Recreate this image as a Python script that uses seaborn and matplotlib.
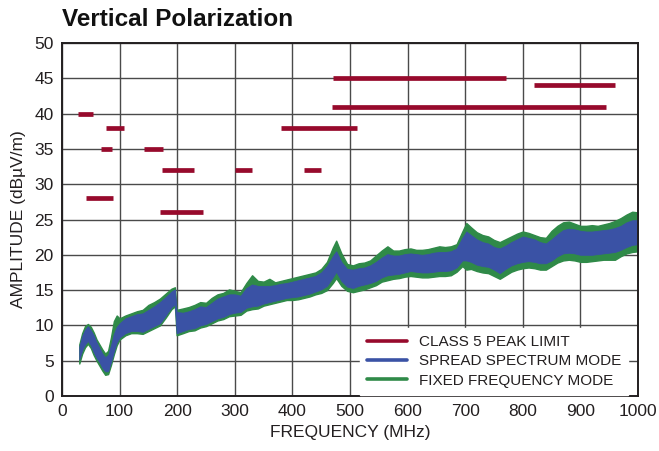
import matplotlib
matplotlib.use("Agg")
import matplotlib.pyplot as plt
from matplotlib.lines import Line2D
import seaborn as sns
import pandas as pd

# ---- Class 5 peak limit segments: (start MHz, stop MHz, level dBuV/m) ----
limit_start = [28, 76, 68, 142, 174, 300, 420, 41, 171, 380, 470, 468, 820]
limit_stop = [54, 108, 87, 175, 230, 330, 450, 88, 245, 512, 771, 944, 960]
limit_level = [40, 38, 35, 35, 32, 32, 32, 28, 26, 38, 45, 41, 44]

# ---- Measured emission envelopes (MHz, dBuV/m) ----
freq = [30, 35, 40, 45, 50, 55, 60, 65, 70, 75, 80, 85, 90, 95, 100,
        110, 120, 130, 140, 150, 160, 170, 180, 190, 196, 199, 210, 220,
        230, 240, 250, 260, 270, 280, 290, 300, 310, 320, 330, 340, 350,
        360, 370, 380, 390, 400, 410, 420, 430, 440, 450, 460, 470, 476,
        485, 495, 505, 515, 525, 535, 545, 555, 565, 575, 585, 595, 605,
        615, 625, 635, 645, 655, 665, 675, 685, 695, 702, 710, 720, 730,
        740, 750, 760, 770, 780, 790, 800, 810, 820, 830, 840, 850, 860,
        870, 880, 890, 900, 910, 920, 930, 940, 950, 960, 970, 980, 990,
        1000]

spread_low = [5.2, 6.5, 7.3, 7.8, 7.2, 6.2, 5.4, 4.8, 4.0, 3.5, 3.5, 4.8,
              6.3, 7.6, 8.3, 8.9, 9.2, 9.2, 9.1, 9.5, 9.9, 10.3, 11.4,
              12.6, 13.0, 8.9, 9.2, 9.5, 9.6, 10.0, 10.2, 10.6, 11.0, 11.2,
              11.6, 11.8, 11.9, 12.5, 12.7, 12.8, 13.1, 13.3, 13.5, 13.7,
              13.9, 14.0, 14.1, 14.3, 14.5, 14.8, 15.1, 15.6, 16.8, 17.6,
              16.3, 15.5, 15.3, 15.6, 15.8, 16.0, 16.3, 16.8, 17.1, 17.2,
              17.3, 17.5, 17.7, 17.6, 17.5, 17.5, 17.6, 17.7, 17.7, 17.8,
              18.2, 19.2, 19.2, 19.0, 18.6, 18.4, 18.3, 17.9, 17.4, 18.0,
              18.5, 18.8, 19.0, 19.1, 19.0, 18.8, 18.8, 19.2, 19.8, 20.2,
              20.3, 20.2, 20.0, 20.0, 20.0, 20.1, 20.2, 20.3, 20.4, 20.7,
              21.1, 21.4, 21.5]
spread_high = [7.0, 8.5, 9.4, 9.9, 9.3, 8.6, 7.6, 6.8, 6.0, 5.5, 5.8, 7.2,
               8.8, 9.8, 10.3, 11.0, 11.3, 11.6, 11.7, 12.2, 12.7, 13.3,
               14.0, 14.8, 15.1, 11.9, 11.8, 12.0, 12.3, 12.7, 12.6, 13.2,
               13.8, 14.1, 14.4, 14.4, 14.2, 15.3, 15.8, 15.6, 15.6, 15.6,
               15.7, 15.9, 16.0, 16.2, 16.4, 16.6, 16.8, 17.0, 17.5, 18.4,
               19.8, 20.5, 19.0, 18.0, 17.9, 18.1, 18.2, 18.5, 19.0, 19.6,
               20.1, 19.9, 19.9, 20.1, 20.2, 20.1, 20.0, 20.1, 20.3, 20.4,
               20.4, 20.5, 20.9, 22.4, 23.3, 22.8, 22.2, 21.8, 21.6, 21.1,
               20.9, 21.3, 21.8, 22.2, 22.6, 22.4, 22.2, 21.8, 21.6, 22.2,
               22.9, 23.5, 23.7, 23.6, 23.4, 23.3, 23.3, 23.4, 23.5, 23.6,
               23.8, 24.1, 24.6, 24.9, 24.9]

fixed_low = [4.6, 6.0, 6.9, 7.4, 6.8, 5.8, 5.0, 4.3, 3.6, 3.0, 3.1, 4.4,
             5.9, 7.2, 8.0, 8.6, 8.9, 8.9, 8.8, 9.2, 9.6, 10.0, 11.1, 12.3,
             12.7, 8.6, 8.9, 9.2, 9.3, 9.7, 9.9, 10.3, 10.7, 10.9, 11.3,
             11.4, 11.5, 12.1, 12.3, 12.4, 12.8, 13.0, 13.2, 13.4, 13.6,
             13.6, 13.7, 13.9, 14.1, 14.4, 14.6, 15.0, 16.0, 16.7, 15.6,
             14.9, 14.7, 14.9, 15.1, 15.4, 15.7, 16.2, 16.4, 16.6, 16.7,
             16.9, 17.0, 16.9, 16.8, 16.8, 16.9, 17.0, 17.0, 17.1, 17.6,
             18.4, 17.9, 18.0, 17.7, 17.5, 17.4, 17.0, 16.6, 17.1, 17.6,
             17.9, 18.1, 18.2, 18.1, 17.9, 17.9, 18.4, 18.9, 19.2, 19.3,
             19.2, 19.0, 19.0, 19.1, 19.2, 19.3, 19.3, 19.3, 19.8, 20.2,
             20.4, 20.5]
fixed_high = [7.3, 8.9, 9.9, 10.2, 9.8, 9.0, 8.0, 7.3, 6.6, 6.0, 6.4, 8.3,
              10.6, 11.4, 11.0, 11.4, 11.7, 12.0, 12.2, 12.9, 13.3, 13.8,
              14.5, 15.2, 15.4, 12.2, 12.4, 12.6, 12.9, 13.3, 13.2, 13.9,
              14.4, 14.6, 15.1, 14.9, 14.7, 16.0, 17.1, 16.3, 16.2, 16.6,
              16.1, 16.3, 16.5, 16.7, 16.9, 17.1, 17.3, 17.5, 18.0, 19.0,
              21.0, 22.0, 20.2, 18.7, 18.5, 18.8, 18.9, 19.2, 19.9, 20.6,
              21.2, 20.6, 20.6, 20.8, 20.9, 20.7, 20.7, 20.8, 21.0, 21.2,
              21.1, 21.2, 21.5, 23.3, 24.5, 23.9, 23.2, 22.8, 22.6, 22.1,
              21.8, 22.2, 22.6, 23.0, 23.3, 23.1, 22.8, 22.5, 22.4, 23.4,
              24.1, 24.6, 24.7, 24.4, 24.1, 24.1, 24.2, 24.1, 24.3, 24.5,
              24.8, 25.2, 25.7, 26.1, 26.0]

x_ticks = list(range(0, 1001, 100))
y_ticks = list(range(0, 51, 5))

LIMIT_C = "#970a2c"
SPREAD_C = "#3a52a5"
FIXED_C = "#2f8a48"
TEXT_C = "#231f20"

sns.set_theme(style="white")
plt.rcParams["font.family"] = ["Liberation Sans Narrow", "DejaVu Sans Condensed",
                               "Liberation Sans", "DejaVu Sans"]

fig = plt.figure(figsize=(6.59, 4.51), dpi=100)
ax = fig.add_axes([62 / 659, 55 / 451, 576 / 659, 353 / 451])

# long-form tables: each frequency carries its low and high reading
spread_df = pd.DataFrame({"freq": freq + freq, "amp": spread_low + spread_high})
fixed_df = pd.DataFrame({"freq": freq + freq, "amp": fixed_low + fixed_high})

sns.lineplot(data=fixed_df, x="freq", y="amp", ax=ax, color=FIXED_C,
             estimator="mean", errorbar=("pi", 100), linewidth=0,
             err_kws={"alpha": 1, "linewidth": 1.0, "edgecolor": FIXED_C}, zorder=3)
sns.lineplot(data=spread_df, x="freq", y="amp", ax=ax, color=SPREAD_C,
             estimator="mean", errorbar=("pi", 100), linewidth=0,
             err_kws={"alpha": 1, "linewidth": 0.6, "edgecolor": SPREAD_C}, zorder=4)

# limit segments drawn as separate units
seg_x, seg_y, seg_id = [], [], []
for i, (a, b, lv) in enumerate(zip(limit_start, limit_stop, limit_level)):
    seg_x += [a, b]
    seg_y += [lv, lv]
    seg_id += [i, i]
limit_df = pd.DataFrame({"freq": seg_x, "amp": seg_y, "seg": seg_id})
sns.lineplot(data=limit_df, x="freq", y="amp", units="seg", estimator=None,
             ax=ax, color=LIMIT_C, linewidth=3.4, solid_capstyle="butt", zorder=5)

ax.set_xlim(0, 1000)
ax.set_ylim(0, 50)
ax.set_xticks(x_ticks)
ax.set_yticks(y_ticks)
ax.set_xticklabels([str(t) for t in x_ticks])
ax.set_yticklabels([str(t) for t in y_ticks])
ax.tick_params(axis="both", length=0, labelsize=12.5, colors=TEXT_C, pad=6)
ax.grid(True, color="#4a4a4a", linewidth=1.0)
ax.set_axisbelow(True)
for s in ax.spines.values():
    s.set_color("#231f20")
    s.set_linewidth(1.4)

ax.set_xlabel("FREQUENCY (MHz)", fontsize=12.5, color=TEXT_C, labelpad=4)
ax.set_ylabel("AMPLITUDE (dBµV/m)", fontsize=12.5, color=TEXT_C, labelpad=6)

fig.text(62 / 659, 1 - 20 / 451, "Vertical Polarization", fontsize=17.5,
         fontweight="bold", color="#111111", ha="left", va="center")

handles = [Line2D([], [], color=LIMIT_C, linewidth=2.6),
           Line2D([], [], color=SPREAD_C, linewidth=2.6),
           Line2D([], [], color=FIXED_C, linewidth=2.6)]
labels = ["CLASS 5 PEAK LIMIT", "SPREAD SPECTRUM MODE", "FIXED FREQUENCY MODE"]
leg = ax.legend(handles, labels, loc="lower right", bbox_to_anchor=(0.983, 0.004),
                frameon=True, fontsize=11, handlelength=2.6, handletextpad=0.8,
                labelspacing=0.35, borderaxespad=0, borderpad=0.45, fancybox=False)
leg.get_frame().set_edgecolor("white")
leg.get_frame().set_facecolor("white")
leg.get_frame().set_alpha(1)
leg.set_zorder(10)
for t in leg.get_texts():
    t.set_color(TEXT_C)

fig.savefig("out.png", dpi=100)
